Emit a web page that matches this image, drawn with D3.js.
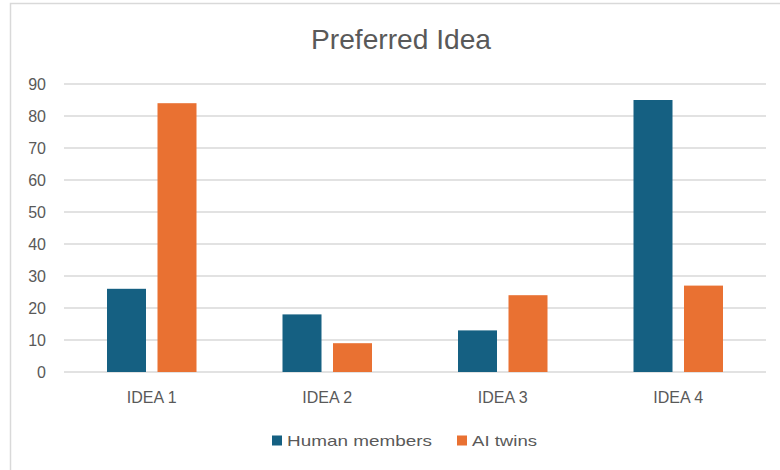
<!DOCTYPE html>
<html>
<head>
<meta charset="utf-8">
<script src="https://cdn.jsdelivr.net/npm/d3@7"></script>
<style>
  body { margin: 0; background: #fff; }
  text { font-family: "Liberation Sans", Arial, sans-serif; fill: #595959; }
</style>
</head>
<body>
<div id="viz"></div>
<script>
const categories = ["IDEA 1", "IDEA 2", "IDEA 3", "IDEA 4"];
const seriesNames = ["Human members", "AI twins"];
const humanMembers = [26, 18, 13, 85];
const aiTwins = [84, 9, 24, 27];
const yTicks = [0, 10, 20, 30, 40, 50, 60, 70, 80, 90];
const colors = ["#156082", "#e97132"];

const W = 780, H = 470;
const svg = d3.select("#viz").append("svg")
  .attr("width", W)
  .attr("height", H);

// chart frame, runs off the right and bottom edges
svg.append("rect")
  .attr("x", 10.5).attr("y", 3.5)
  .attr("width", W + 20).attr("height", H + 20)
  .attr("fill", "#fff")
  .attr("stroke", "#d9d9d9")
  .attr("stroke-width", 1.5);

svg.append("text")
  .attr("x", 401)
  .attr("y", 49)
  .attr("text-anchor", "middle")
  .attr("textLength", 180)
  .attr("lengthAdjust", "spacingAndGlyphs")
  .style("font-size", "28px")
  .text("Preferred Idea");

const plot = { left: 64, right: 766, top: 84, bottom: 372 };

const x = d3.scaleBand()
  .domain(categories)
  .range([plot.left, plot.right]);

const y = d3.scaleLinear()
  .domain([0, 90])
  .range([plot.bottom, plot.top]);

// gridlines
svg.append("g")
  .selectAll("line")
  .data(yTicks)
  .join("line")
  .attr("x1", plot.left).attr("x2", plot.right)
  .attr("y1", d => y(d)).attr("y2", d => y(d))
  .attr("stroke", "#d9d9d9")
  .attr("stroke-width", 1.5);

// y labels
svg.append("g")
  .selectAll("text")
  .data(yTicks)
  .join("text")
  .attr("x", 46)
  .attr("y", d => y(d))
  .attr("dy", "0.35em")
  .attr("text-anchor", "end")
  .style("font-size", "16px")
  .text(d => d);

// bars
const barW = 39, gap = 11.5;
const data = categories.map((c, i) => ({ cat: c, values: [humanMembers[i], aiTwins[i]] }));

const groups = svg.append("g")
  .selectAll("g")
  .data(data)
  .join("g")
  .attr("transform", d => `translate(${x(d.cat) + x.bandwidth() / 2},0)`);

groups.selectAll("rect")
  .data(d => d.values.map((v, k) => ({ v, k })))
  .join("rect")
  .attr("x", d => d.k === 0 ? -gap / 2 - barW : gap / 2)
  .attr("y", d => y(d.v))
  .attr("width", barW)
  .attr("height", d => y(0) - y(d.v))
  .attr("fill", d => colors[d.k]);

// x labels
svg.append("g")
  .selectAll("text")
  .data(categories)
  .join("text")
  .attr("x", d => x(d) + x.bandwidth() / 2)
  .attr("y", 403)
  .attr("text-anchor", "middle")
  .style("font-size", "16px")
  .text(d => d);

// legend
const legendX = [272, 457];
const legendLen = [145, 65];
const legend = svg.append("g")
  .selectAll("g")
  .data(seriesNames)
  .join("g")
  .attr("transform", (d, i) => `translate(${legendX[i]},435.5)`);

legend.append("rect")
  .attr("width", 10).attr("height", 10)
  .attr("fill", (d, i) => colors[i]);

legend.append("text")
  .attr("x", 15)
  .attr("y", 10)
  .attr("textLength", (d, i) => legendLen[i])
  .attr("lengthAdjust", "spacingAndGlyphs")
  .style("font-size", "15px")
  .text(d => d);
</script>
</body>
</html>
